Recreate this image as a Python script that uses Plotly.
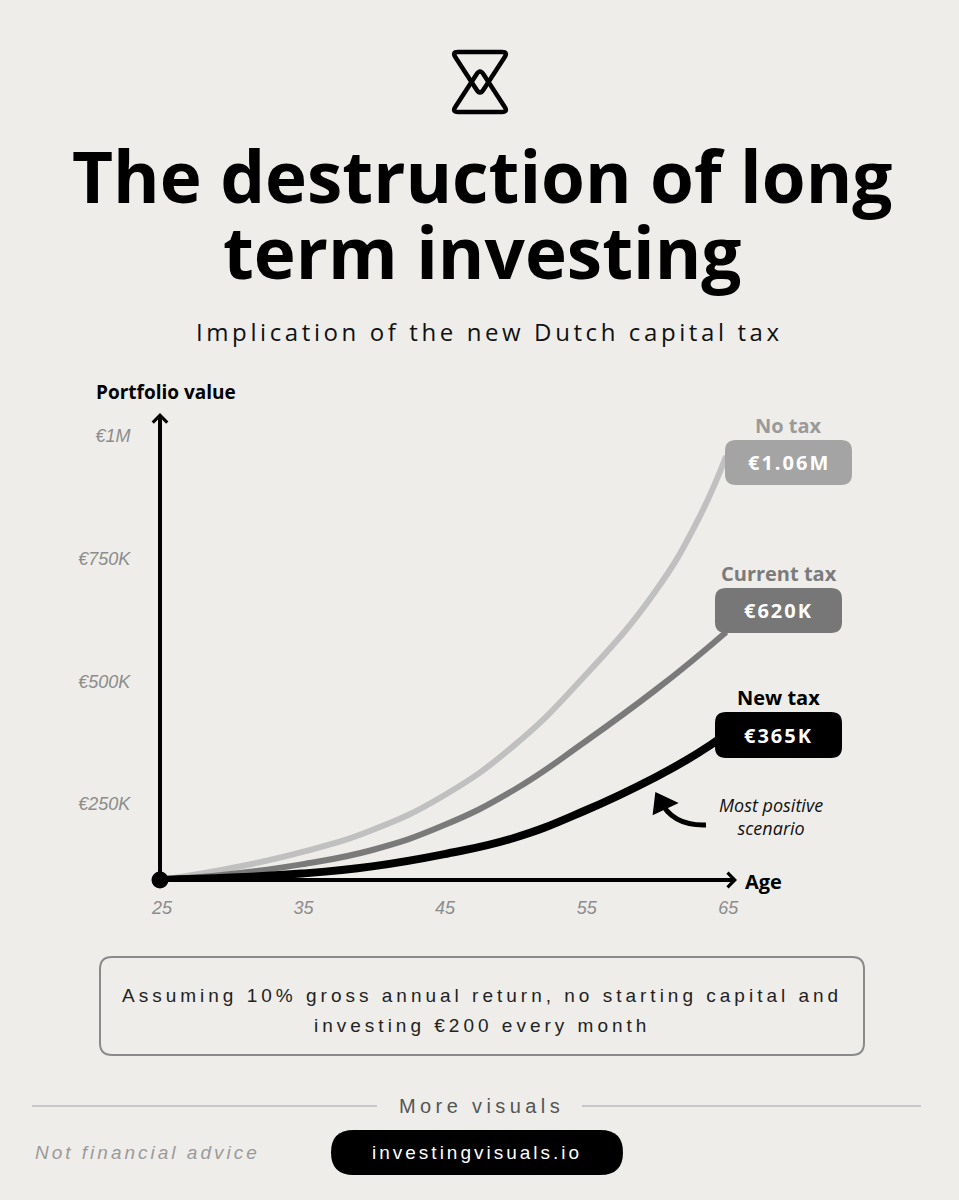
import plotly.graph_objects as go

# ---------------- data ----------------
ages = [25, 30, 35, 40, 45, 50, 55, 60, 63, 65]
no_tax = [0, 29500, 69500, 125000, 210000, 336000, 510000, 722000, 900000, 1060000]
current_tax = [0, 15000, 39000, 75000, 136000, 225000, 345000, 475000, 560000, 620000]
new_tax = [0, 6000, 16000, 34000, 64000, 105000, 173000, 257000, 317000, 365000]
series_names = ["No tax", "Current tax", "New tax"]
end_labels = ["€1.06M", "€620K", "€365K"]
x_ticks = [25, 35, 45, 55, 65]
y_ticks = [250000, 500000, 750000, 1000000]
y_tick_text = ["€250K", "€500K", "€750K", "€1M"]

# ---------------- layout geometry (pixels) ----------------
FW, FH = 959, 1200
L, R, T, B = 160, 162, 413, 320
PW = FW - L - R
PH = FH - T - B
BOT = FH - B
X_RANGE = [25, 70]
PX_PER_M = 400.0
Y_RANGE = [0, PH / PX_PER_M * 1e6]
# label axis: 250K at y=804px, 1M at y=436px
lab_slope = 750000 / (804 - 436)
y2_lo = 250000 - (BOT - 804) * lab_slope
Y2_RANGE = [y2_lo, y2_lo + PH * lab_slope]

BG = "#eeedea"


def px(x):
    return (x - L) / PW


def py(y):
    return (BOT - y) / PH


def age_at(xpix):
    return X_RANGE[0] + (xpix - L) / PW * (X_RANGE[1] - X_RANGE[0])


def fmt(p):
    return f"{px(p[0]):.5f},{py(p[1]):.5f}"


def toward(a, b, r):
    dx, dy = b[0] - a[0], b[1] - a[1]
    d = (dx * dx + dy * dy) ** 0.5
    r = min(r, d / 2)
    return (a[0] + dx / d * r, a[1] + dy / d * r)


def rpoly(pts, r):
    n = len(pts)
    parts = []
    for i in range(n):
        p0, p1, p2 = pts[i - 1], pts[i], pts[(i + 1) % n]
        parts.append((toward(p1, p0, r), p1, toward(p1, p2, r)))
    s = "M" + fmt(parts[0][0])
    for i, (a, c, b) in enumerate(parts):
        if i > 0:
            s += " L" + fmt(a)
        s += " Q" + fmt(c) + " " + fmt(b)
    return s + " Z"


def rrect(x0, y0, x1, y1, r):
    return rpoly([(x0, y0), (x1, y0), (x1, y1), (x0, y1)], r)


fig = go.Figure()

line_colors = ["#c0c0c0", "#7a7a7a", "#000000"]
line_widths = [6, 6, 8]
for name, vals, col, w in zip(series_names, [no_tax, current_tax, new_tax], line_colors, line_widths):
    fig.add_trace(go.Scatter(
        x=ages, y=vals, mode="lines", name=name,
        line=dict(color=col, width=w, shape="spline", smoothing=1.3),
        cliponaxis=False, hoverinfo="skip", showlegend=False,
    ))

# origin dot
fig.add_trace(go.Scatter(x=[ages[0]], y=[0], mode="markers",
                         marker=dict(color="#000", size=17), cliponaxis=False,
                         hoverinfo="skip", showlegend=False))

# invisible anchor so the labelled value axis is drawn
fig.add_trace(go.Scatter(x=[ages[0]], y=[y_ticks[0]], yaxis="y2", mode="markers",
                         marker=dict(opacity=0, size=1), hoverinfo="skip", showlegend=False))

shapes = []
annotations = []

# axes arrows
annotations.append(dict(x=age_at(737), y=0, ax=ages[0], ay=0, xref="x", yref="y",
                        axref="x", ayref="y", text="", showarrow=True,
                        arrowhead=4, arrowwidth=4, arrowsize=0.7, arrowcolor="#000"))
annotations.append(dict(x=ages[0], y=Y_RANGE[1], ax=ages[0], ay=0, xref="x", yref="y",
                        axref="x", ayref="y", text="", showarrow=True,
                        arrowhead=4, arrowwidth=4, arrowsize=0.7, arrowcolor="#000"))


def text(x, y, t, size, color="#000", family="Open Sans", weight=400, style="normal",
         xanchor="center", yanchor="middle"):
    annotations.append(dict(x=px(x), y=py(y), xref="paper", yref="paper", text=t,
                            showarrow=False, xanchor=xanchor, yanchor=yanchor,
                            font=dict(size=size, color=color, family=family,
                                      weight=weight, style=style)))


def spaced(t, sp):
    return f'<span style="letter-spacing:{sp}px">{t}</span>'


def big(t, sz):
    return f'<span style="font-size:{sz}px">{t}</span>'


# logo: two overlapping rounded triangles
shapes.append(dict(type="path", xref="paper", yref="paper",
                   path=rpoly([(452, 52), (508, 52), (480, 95)], 6),
                   line=dict(color="#000", width=4.5)))
shapes.append(dict(type="path", xref="paper", yref="paper",
                   path=rpoly([(452, 112), (480, 69), (508, 112)], 6),
                   line=dict(color="#000", width=4.5)))

# title (two lines, 76px apart, one text element)
text(482, 214, big("The destruction of long", 71) + "<br>" + big("term investing", 71), 58.5, weight=700)
text(489, 331, spaced("Implication of the new Dutch capital tax", 3.6), 24, color="#111")

# axis titles
text(166, 392, "Portfolio value", 19, weight=700)
text(743, 881, "Age", 20, weight=700, xanchor="left")

# end labels
box_geo = [(725, 440, 852, 485), (715, 588, 842, 633), (715, 712, 842, 758)]
box_cols = ["#a4a4a4", "#777777", "#000000"]
name_cols = ["#9a9a9a", "#7b7b7b", "#000000"]
for name, lab, (x0, y0, x1, y1), bc, nc in zip(series_names, end_labels, box_geo, box_cols, name_cols):
    shapes.append(dict(type="path", xref="paper", yref="paper", path=rrect(x0, y0, x1, y1, 11),
                       fillcolor=bc, line=dict(width=0), layer="above"))
    text((x0 + x1) / 2, (y0 + y1) / 2, spaced(lab, 2), 20, color="#ffffff", weight=700)
    text((x0 + x1) / 2, y0 - 15, name, 20, color=nc, weight=700)

# note + curved arrow
text(771, 816, "Most positive<br>scenario", 18, color="#111", style="italic")
shapes.append(dict(type="path", xref="paper", yref="paper",
                   path=f"M{fmt((706, 825))} Q{fmt((672, 826))} {fmt((660, 800))}",
                   line=dict(color="#000", width=5)))
shapes.append(dict(type="path", xref="paper", yref="paper",
                   path=f"M{fmt((655, 812))} L{fmt((657, 795))} L{fmt((674, 803))} Z",
                   fillcolor="#000", line=dict(color="#000", width=4)))

# assumption box
shapes.append(dict(type="path", xref="paper", yref="paper", path=rrect(100, 957, 864, 1055, 12),
                   line=dict(color="#8a8a8a", width=2)))
text(482, 995, spaced("Assuming 10% gross annual return, no starting capital and", 4.0), 19,
     color="#222", family="Liberation Sans")
text(482, 1025, spaced("investing €200 every month", 4.0), 19, color="#222",
     family="Liberation Sans")

# footer
shapes.append(dict(type="line", xref="paper", yref="paper", x0=px(32), x1=px(377), y0=py(1106), y1=py(1106),
                   line=dict(color="#c8c8c8", width=2)))
shapes.append(dict(type="line", xref="paper", yref="paper", x0=px(582), x1=px(921), y0=py(1106), y1=py(1106),
                   line=dict(color="#c8c8c8", width=2)))
text(481, 1106, spaced("More visuals", 4.4), 20, color="#555", family="Liberation Sans")
text(33, 1152, spaced("Not financial advice", 3.0), 19, color="#9a9a9a",
     family="Liberation Sans", style="italic", xanchor="left")
shapes.append(dict(type="path", xref="paper", yref="paper", path=rrect(331, 1130, 623, 1175, 22.5),
                   fillcolor="#000", line=dict(width=0)))
text(477, 1152, spaced("investingvisuals.io", 3.0), 19, color="#fff", family="Liberation Sans")

fig.update_layout(
    width=FW, height=FH,
    margin=dict(l=L, r=R, t=T, b=B, pad=0),
    paper_bgcolor=BG, plot_bgcolor="rgba(0,0,0,0)",
    showlegend=False,
    xaxis=dict(range=X_RANGE, tickvals=x_ticks, ticks="outside", ticklen=11,
               tickcolor="rgba(0,0,0,0)", showgrid=False, zeroline=False, showline=False,
               tickfont=dict(family="Liberation Sans", size=18, color="#8c8c8c", style="italic"),
               ticklabelshift=2, fixedrange=True),
    yaxis=dict(range=Y_RANGE, showticklabels=False, showgrid=False, zeroline=False,
               showline=False, ticks="", fixedrange=True),
    yaxis2=dict(range=Y2_RANGE, overlaying="y", side="left", anchor="x",
                tickvals=y_ticks, ticktext=y_tick_text, ticks="outside", ticklen=25,
                tickcolor="rgba(0,0,0,0)", showgrid=False, zeroline=False, showline=False,
                tickfont=dict(family="Liberation Sans", size=18, color="#8c8c8c", style="italic"),
                fixedrange=True),
    shapes=shapes,
    annotations=annotations,
)

fig.write_html("out.html", config={"displayModeBar": False},
               post_script="document.body.style.margin='0';document.body.style.overflow='hidden';")
